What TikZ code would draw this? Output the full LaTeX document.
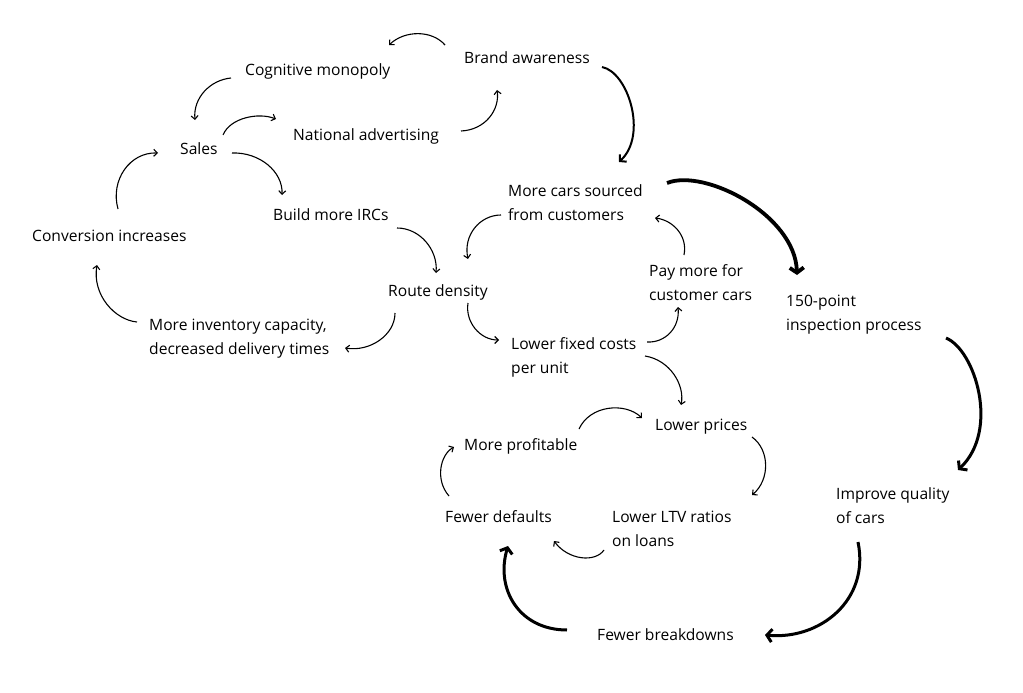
\documentclass[tikz,border=0pt]{standalone}
\usepackage{fontspec}
\setmainfont{Open Sans}
\usetikzlibrary{arrows.meta}
\begin{document}
\begin{tikzpicture}[x=1pt,y=-1pt,
  lbl/.style={anchor=base west,inner sep=0pt,align=left,font=\fontsize{15.6}{24}\selectfont},
  thin/.style={line width=1.1pt,-{Straight Barb[length=3.5pt,width=7pt]}},
  mid/.style={line width=2pt,-{Straight Barb[length=4.5pt,width=10pt]}},
  thick/.style={line width=3pt,-{Straight Barb[length=5pt,width=13pt]}},
  thicker/.style={line width=3.8pt,-{Straight Barb[length=5pt,width=14pt]}}]
\useasboundingbox[fill=white] (0,0) rectangle (1023,693);
\node[lbl] (brand) at (464,64) {Brand awareness};
\node[lbl] (cog) at (245,75) {Cognitive monopoly};
\node[lbl] (nat) at (293,140) {National advertising};
\node[lbl] (sales) at (180,154) {Sales};
\node[lbl] (irc) at (273,220) {Build more IRCs};
\node[lbl] (conv) at (32,241) {Conversion increases};
\node[lbl] (route) at (388,296) {Route density};
\node[lbl] (inv) at (149,354) {More inventory capacity,\\decreased delivery times};
\node[lbl] (cars) at (508,220) {More cars sourced\\from customers};
\node[lbl] (pay) at (649,300) {Pay more for\\customer cars};
\node[lbl] (fixed) at (511,373) {Lower fixed costs\\per unit};
\node[lbl] (insp) at (786,330) {150-point\\inspection process};
\node[lbl] (prices) at (655,430) {Lower prices};
\node[lbl] (prof) at (464,450) {More profitable};
\node[lbl] (def) at (445,522) {Fewer defaults};
\node[lbl] (ltv) at (612,546) {Lower LTV ratios\\on loans};
\node[lbl] (qual) at (836,523) {Improve quality\\of cars};
\node[lbl] (brk) at (597,640) {Fewer breakdowns};
% connector end points
\coordinate (a1) at (445,45);  \coordinate (b1) at (389,45);
\coordinate (a2) at (231,78);  \coordinate (b2) at (195,120);
\coordinate (a3) at (223,135); \coordinate (b3) at (276,119);
\coordinate (a4) at (461,131); \coordinate (b4) at (497,90);
\coordinate (a5) at (602,67);  \coordinate (b5) at (619,162);
\coordinate (a6) at (232,153); \coordinate (b6) at (282,195);
\coordinate (a7) at (118,209); \coordinate (b7) at (158,153);
\coordinate (a8) at (397,228); \coordinate (b8) at (436,273);
\coordinate (a9) at (395,313); \coordinate (b9) at (345,348);
\coordinate (a10) at (137,322); \coordinate (b10) at (97,265);
\coordinate (a11) at (501,215); \coordinate (b11) at (468,259);
\coordinate (a12) at (468,303); \coordinate (b12) at (499,340);
\coordinate (a13) at (647,342); \coordinate (b13) at (678,307);
\coordinate (a14) at (684,255); \coordinate (b14) at (655,218);
\coordinate (a15) at (667,183); \coordinate (b15) at (797,275);
\coordinate (a16) at (645,356); \coordinate (b16) at (681,405);
\coordinate (a17) at (579,429); \coordinate (b17) at (642,418);
\coordinate (a18) at (752,437); \coordinate (b18) at (752,495);
\coordinate (a19) at (604,550); \coordinate (b19) at (554,541);
\coordinate (a20) at (449,496); \coordinate (b20) at (454,447);
\coordinate (a21) at (946,338); \coordinate (b21) at (958,470);
\coordinate (a22) at (858,542); \coordinate (b22) at (765,635);
\coordinate (a23) at (567,630); \coordinate (b23) at (508,546);
% connectors
\draw[thin] (a1) .. controls (432,30) and (405,30) .. (b1);
\draw[thin] (a2) .. controls (210,80) and (193,98) .. (b2);
\draw[thin] (a3) .. controls (230,118) and (258,112) .. (b3);
\draw[thin] (a4) .. controls (485,130) and (500,110) .. (b4);
\draw[mid] (a5) .. controls (628,72) and (648,135) .. (b5);
\draw[thin] (a6) .. controls (260,152) and (283,172) .. (b6);
\draw[thin] (a7) .. controls (110,180) and (130,152) .. (b7);
\draw[thin] (a8) .. controls (420,228) and (438,250) .. (b8);
\draw[thin] (a9) .. controls (395,335) and (370,352) .. (b9);
\draw[thin] (a10) .. controls (115,320) and (92,295) .. (b10);
\draw[thin] (a11) .. controls (480,215) and (463,235) .. (b11);
\draw[thin] (a12) .. controls (465,322) and (480,340) .. (b12);
\draw[thin] (a13) .. controls (665,343) and (680,328) .. (b13);
\draw[thin] (a14) .. controls (688,235) and (672,220) .. (b14);
\draw[thicker] (a15) .. controls (705,168) and (795,215) .. (b15);
\draw[thin] (a16) .. controls (670,360) and (685,385) .. (b16);
\draw[thin] (a17) .. controls (590,405) and (625,402) .. (b17);
\draw[thin] (a18) .. controls (770,450) and (770,480) .. (b18);
\draw[thin] (a19) .. controls (595,563) and (568,560) .. (b19);
\draw[thin] (a20) .. controls (435,480) and (440,455) .. (b20);
\draw[thick] (a21) .. controls (975,350) and (1000,430) .. (b21);
\draw[thick] (a22) .. controls (870,600) and (820,640) .. (b22);
\draw[thick] (a23) .. controls (520,630) and (495,590) .. (b23);
\end{tikzpicture}
\end{document}
